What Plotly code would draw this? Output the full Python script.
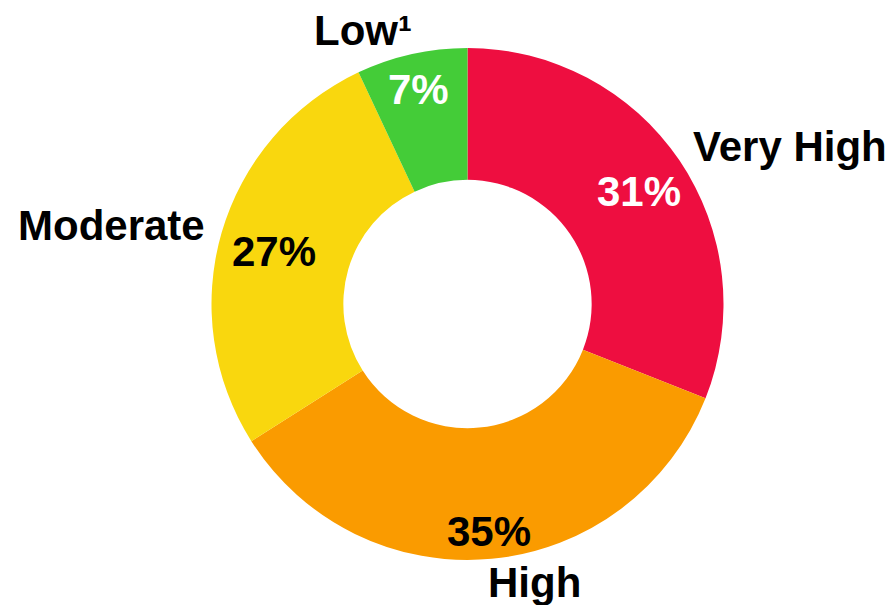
import math
import plotly.graph_objects as go

categories = ["Very High", "High", "Moderate", "Low¹"]
values = [31, 35, 27, 7]
colors = ["#EE0E40", "#FA9B00", "#F9D70E", "#44CC38"]
pct_colors = ["white", "black", "black", "white"]

W, H = 892, 605
cx, cy, R = 467.5, 304, 256  # pixels (cy from top)
hole = 0.485

fig = go.Figure(go.Pie(
    labels=categories, values=values, sort=False, direction="clockwise",
    rotation=0, hole=hole, textinfo="none", hoverinfo="label+percent",
    marker=dict(colors=colors, line=dict(width=0)), showlegend=False,
    domain=dict(x=[(cx - R) / W, (cx + R) / W], y=[1 - (cy + R) / H, 1 - (cy - R) / H]),
))

total = sum(values)
font = "Liberation Sans, Arial, sans-serif"
FS = 42
anns = []
cum = 0
for lab, v, pc in zip(categories, values, pct_colors):
    mid = (cum + v / 2) / total * 2 * math.pi
    cum += v
    s, c = math.sin(mid), math.cos(mid)
    # percentage text inside ring
    rp = 200 + 25 * c * c
    px, py = cx + rp * s, cy - rp * c + 4
    anns.append(dict(x=px / W, y=1 - py / H, xref="paper", yref="paper",
                     text=f"<b>{round(v / total * 100)}%</b>", showarrow=False,
                     font=dict(family=font, size=FS, color=pc),
                     xanchor="center", yanchor="middle", borderpad=0))
    # category label outside: box overlaps the ray point slightly
    rl = 280
    lx, ly = cx + rl * s, cy - rl * c
    xa = "left" if s > 0 else "right"
    lx += -7 if s > 0 else 7
    anns.append(dict(x=lx / W, y=1 - ly / H, xref="paper", yref="paper",
                     text=f"<b>{lab}</b>", showarrow=False,
                     font=dict(family=font, size=FS, color="black"),
                     xanchor=xa, yanchor="middle", borderpad=0))

fig.update_layout(width=W, height=H, margin=dict(l=0, r=0, t=0, b=0),
                  paper_bgcolor="white", plot_bgcolor="white", annotations=anns)
fig.write_html("out.html")
